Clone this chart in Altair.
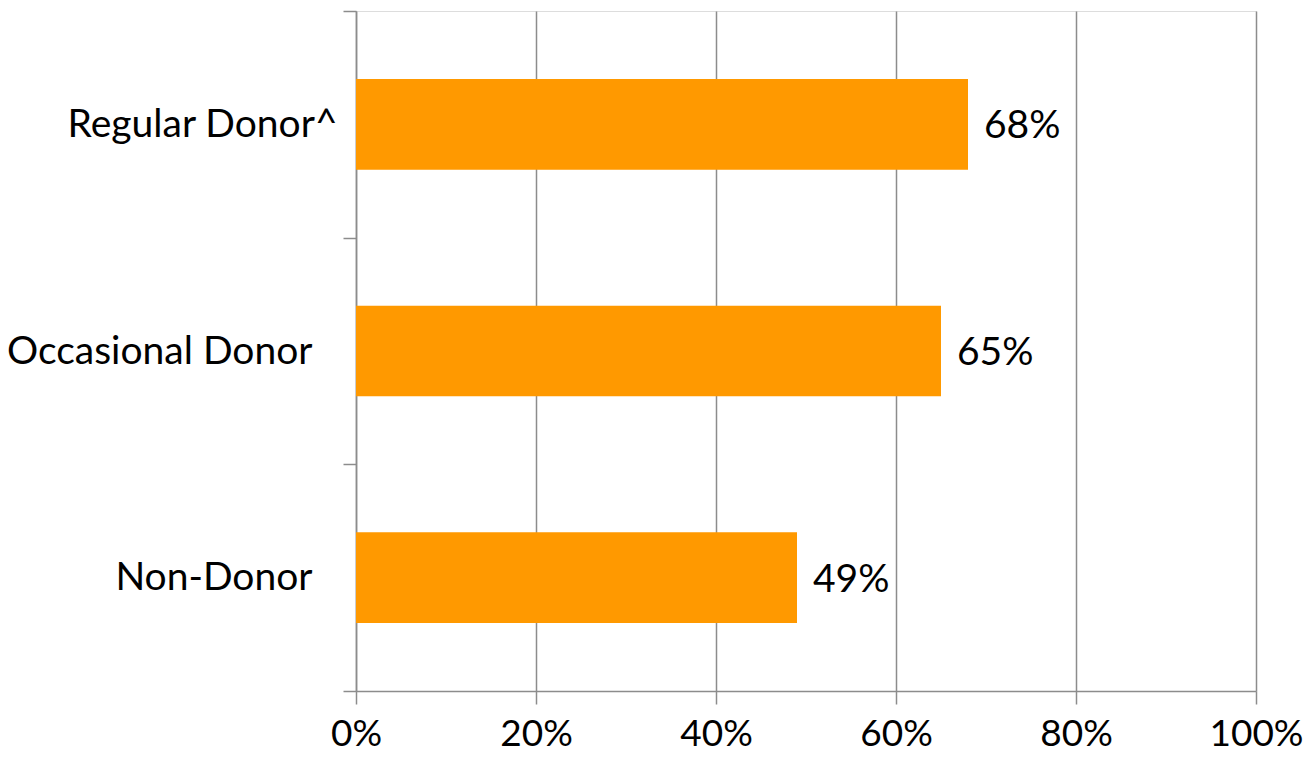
import altair as alt
import pandas as pd

categories = ["Regular Donor^", "Occasional Donor", "Non-Donor"]
values = [0.68, 0.65, 0.49]
value_labels = ["68%", "65%", "49%"]
x_ticks = [0, 0.2, 0.4, 0.6, 0.8, 1.0]

df = pd.DataFrame({"cat": categories, "val": values, "lab": value_labels})

FONT = "Lato"
FS = 39
GRID = "#8c8c8c"

y_enc = alt.Y(
    "cat:N",
    sort=categories,
    title=None,
    scale=alt.Scale(paddingInner=0, paddingOuter=0),
    axis=alt.Axis(
        tickBand="extent",
        domainColor=GRID,
        domainWidth=1.5,
        tickColor=GRID,
        tickWidth=1.5,
        tickSize=13,
        labelPadding={
            "condition": {"test": "datum.label == 'Regular Donor^'", "value": 6},
            "value": 31,
        },
        labelFont=FONT,
        labelFontSize=FS,
        labelColor="black",
        labelLimit=400,
        grid=False,
    ),
)

x_enc = alt.X(
    "val:Q",
    title=None,
    scale=alt.Scale(domain=[0, 1], nice=False),
    axis=alt.Axis(
        values=x_ticks,
        format=".0%",
        grid=True,
        gridColor=GRID,
        gridWidth=1.5,
        domainColor=GRID,
        domainWidth=1.5,
        tickColor=GRID,
        tickWidth=1.5,
        tickSize=13,
        labelPadding=12,
        labelFont=FONT,
        labelFontSize=37,
        labelColor="black",
        labelFlush=False,
        labelOverlap=False,
    ),
)

bars = alt.Chart(df).mark_bar(color="#FF9900", height={"band": 0.4}).encode(
    x=x_enc, y=y_enc
)

text = alt.Chart(df).mark_text(
    align="left", baseline="middle", dx=16, dy=2, font=FONT, fontSize=FS, color="black"
).encode(x="val:Q", y=alt.Y("cat:N", sort=categories), text="lab:N")

chart = (
    alt.layer(bars, text)
    .properties(
        width=900,
        height=680,
        autosize=alt.AutoSizeParams(type="none"),
        padding={"left": 348, "top": 3, "right": 50, "bottom": 65},
    )
    .configure_view(stroke=None)
    .configure(background="white")
)

chart.save("out.html", embed_options={"renderer": "svg", "actions": False})
